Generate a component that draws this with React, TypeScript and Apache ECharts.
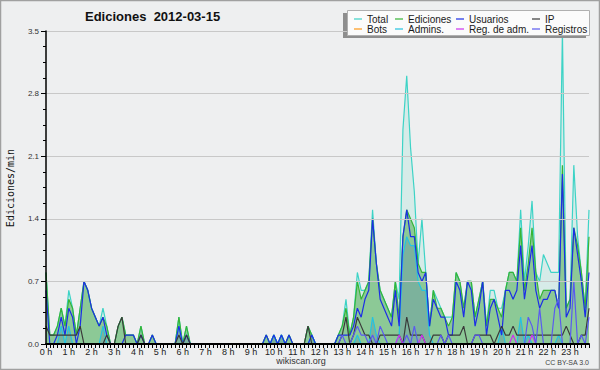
import React, { useEffect, useRef } from "react";
import * as echarts from "echarts";

// Hour tick labels (one every 6 ten-minute slots)
const hourLabels = [
  "0 h", "1 h", "2 h", "3 h", "4 h", "5 h", "6 h", "7 h", "8 h", "9 h", "10 h", "11 h",
  "12 h", "13 h", "14 h", "15 h", "16 h", "17 h", "18 h", "19 h", "20 h", "21 h", "22 h", "23 h",
];
const minuteSteps = ["00", "10", "20", "30", "40", "50"];

// Edits per minute, 10-minute bins (each row = 2 hours)
const total = [
  0.8, 0.1, 0.1, 0.2, 0.4, 0.2, 0.6, 0.4, 0.1, 0.4, 0.7, 0.6,
  0.4, 0.3, 0.2, 0.4, 0.2, 0, 0, 0.2, 0.3, 0.1, 0.1, 0.1,
  0, 0.2, 0, 0, 0.1, 0, 0, 0, 0, 0, 0, 0.3,
  0, 0.2, 0, 0, 0, 0, 0, 0, 0, 0, 0, 0,
  0, 0, 0, 0, 0, 0, 0, 0, 0, 0, 0.1, 0,
  0.1, 0, 0.1, 0, 0.1, 0, 0, 0, 0, 0.2, 0.1, 0,
  0, 0, 0, 0, 0, 0.1, 0.2, 0.5, 0.1, 0.3, 0.8, 0.6,
  0.6, 0.7, 1.5, 0.9, 0.6, 0.5, 0.4, 0.3, 0.7, 0.5, 2.4, 3.0,
  2.2, 1.7, 0.9, 1.4, 0.8, 0.2, 0.6, 0.5, 0.4, 0.3, 0.3, 0.3,
  0.8, 0.7, 0.4, 0.7, 0.7, 0.3, 0.5, 0.7, 0.2, 0.6, 0.6, 0.4,
  0.4, 0.6, 0.8, 0.8, 0.7, 1.5, 0.7, 1.1, 1.6, 0.8, 0.7, 1.0,
  0.9, 0.8, 0.8, 0.8, 3.5, 0.4, 0.5, 2.0, 1.2, 0.8, 0.4, 1.5,
];
const ediciones = [
  0.8, 0.1, 0.1, 0.2, 0.4, 0.2, 0.5, 0.4, 0.1, 0.4, 0.7, 0.6,
  0.4, 0.3, 0.2, 0.3, 0.2, 0, 0, 0.2, 0.3, 0.1, 0.1, 0.1,
  0, 0.2, 0, 0, 0.1, 0, 0, 0, 0, 0, 0, 0.3,
  0, 0.2, 0, 0, 0, 0, 0, 0, 0, 0, 0, 0,
  0, 0, 0, 0, 0, 0, 0, 0, 0, 0, 0.1, 0,
  0.1, 0, 0.1, 0, 0.1, 0, 0, 0, 0, 0.2, 0.1, 0,
  0, 0, 0, 0, 0, 0.1, 0.2, 0.4, 0.1, 0.3, 0.7, 0.5,
  0.6, 0.7, 1.4, 0.9, 0.6, 0.5, 0.4, 0.3, 0.7, 0.3, 1.2, 1.5,
  1.4, 1.3, 0.9, 0.8, 0.8, 0.2, 0.6, 0.4, 0.4, 0.3, 0.2, 0.3,
  0.8, 0.7, 0.4, 0.7, 0.7, 0.3, 0.5, 0.7, 0.2, 0.5, 0.5, 0.4,
  0.3, 0.6, 0.8, 0.8, 0.7, 1.3, 0.6, 0.9, 1.3, 0.8, 0.5, 0.6,
  0.6, 0.6, 0.6, 0.4, 2.0, 0.4, 0.5, 1.3, 1.1, 0.8, 0.4, 1.2,
];
const usuarios = [
  0.6, 0, 0, 0.1, 0.3, 0.1, 0.4, 0.3, 0, 0.2, 0.7, 0.6,
  0.4, 0.3, 0.2, 0.3, 0.1, 0, 0, 0, 0, 0.1, 0.1, 0.1,
  0, 0.1, 0, 0, 0.1, 0, 0, 0, 0, 0, 0, 0.2,
  0, 0.1, 0, 0, 0, 0, 0, 0, 0, 0, 0, 0,
  0, 0, 0, 0, 0, 0, 0, 0, 0, 0, 0.1, 0,
  0.1, 0, 0.1, 0, 0.1, 0, 0, 0, 0, 0, 0.1, 0,
  0, 0, 0, 0, 0, 0.1, 0.1, 0.1, 0.1, 0.2, 0.4, 0.3,
  0.5, 0.6, 1.4, 0.9, 0.5, 0.4, 0.3, 0.2, 0.6, 0.2, 1.2, 1.5,
  1.2, 1.2, 0.8, 0.7, 0.8, 0.2, 0.5, 0.4, 0.3, 0.3, 0.1, 0.1,
  0.7, 0.6, 0.3, 0.7, 0.6, 0.2, 0.4, 0.7, 0.1, 0.4, 0.5, 0.3,
  0.1, 0.6, 0.6, 0.5, 0.6, 1.1, 0.5, 0.8, 1.1, 0.6, 0.4, 0.5,
  0.5, 0.6, 0.6, 0.4, 1.9, 0.3, 0.4, 1.3, 1.0, 0.7, 0.3, 0.8,
];
const ip = [
  0.2, 0.1, 0.1, 0.1, 0.1, 0.1, 0.1, 0.1, 0.1, 0.2, 0, 0,
  0, 0, 0, 0, 0.1, 0, 0, 0.2, 0.3, 0, 0, 0,
  0, 0.1, 0, 0, 0, 0, 0, 0, 0, 0, 0, 0.1,
  0, 0.1, 0, 0, 0, 0, 0, 0, 0, 0, 0, 0,
  0, 0, 0, 0, 0, 0, 0, 0, 0, 0, 0, 0,
  0, 0, 0, 0, 0, 0, 0, 0, 0, 0.2, 0, 0,
  0, 0, 0, 0, 0, 0, 0.1, 0.3, 0, 0.1, 0.3, 0.2,
  0.1, 0.1, 0, 0, 0.1, 0.1, 0.1, 0.1, 0.1, 0.1, 0, 0.3,
  0.1, 0.1, 0.1, 0.1, 0, 0, 0.1, 0.1, 0.1, 0, 0.1, 0.1,
  0.1, 0.1, 0.2, 0, 0, 0.1, 0.1, 0.1, 0.1, 0.1, 0, 0.1,
  0.2, 0.1, 0.1, 0.2, 0.1, 0.1, 0.1, 0.1, 0.1, 0.1, 0.1, 0.1,
  0.1, 0.1, 0.1, 0.1, 0.1, 0.2, 0.1, 0, 0, 0.1, 0.1, 0.4,
];
const bots = [
  0, 0, 0, 0, 0, 0, 0, 0, 0, 0, 0, 0,
  0, 0, 0, 0, 0, 0, 0, 0, 0, 0, 0, 0,
  0, 0, 0, 0, 0, 0, 0, 0, 0, 0, 0, 0,
  0, 0, 0, 0, 0, 0, 0, 0, 0, 0, 0, 0,
  0, 0, 0, 0, 0, 0, 0, 0, 0, 0, 0, 0,
  0, 0, 0, 0, 0, 0, 0, 0, 0, 0, 0, 0,
  0, 0, 0, 0, 0, 0, 0, 0, 0, 0, 0, 0,
  0, 0, 0, 0, 0, 0, 0, 0, 0, 0, 0, 0,
  0, 0, 0, 0, 0, 0, 0, 0, 0, 0, 0, 0,
  0, 0, 0, 0, 0, 0, 0, 0, 0, 0, 0, 0,
  0, 0, 0, 0, 0, 0, 0, 0, 0, 0, 0, 0,
  0, 0, 0, 0, 0, 0, 0, 0, 0, 0, 0, 0,
];
const admins = [
  0, 0, 0, 0, 0.2, 0, 0.2, 0, 0, 0, 0, 0,
  0, 0, 0, 0.2, 0, 0, 0, 0, 0, 0, 0, 0,
  0, 0, 0, 0, 0, 0, 0, 0, 0, 0, 0, 0.2,
  0, 0.1, 0, 0, 0, 0, 0, 0, 0, 0, 0, 0,
  0, 0, 0, 0, 0, 0, 0, 0, 0, 0, 0, 0,
  0.1, 0, 0.1, 0, 0, 0, 0, 0, 0, 0, 0.1, 0,
  0, 0, 0, 0, 0, 0, 0, 0, 0, 0, 0.1, 0,
  0, 0, 0.3, 0.1, 0, 0, 0, 0, 0, 0.1, 1.0, 1.2,
  1.1, 1.1, 0.7, 0.6, 0.6, 0.1, 0, 0, 0, 0, 0, 0,
  0, 0, 0, 0, 0, 0, 0, 0, 0, 0, 0, 0,
  0.2, 0, 0, 0, 0, 0.3, 0, 0.1, 0, 0, 0, 0,
  0, 0, 0, 0.1, 0, 0, 0, 0, 0, 0, 0, 0,
];
const regAdm = [
  0, 0, 0, 0, 0, 0, 0, 0, 0, 0, 0, 0,
  0, 0, 0, 0, 0, 0, 0, 0, 0, 0, 0, 0,
  0, 0, 0, 0, 0, 0, 0, 0, 0, 0, 0, 0,
  0, 0, 0, 0, 0, 0, 0, 0, 0, 0, 0, 0,
  0, 0, 0, 0, 0, 0, 0, 0, 0, 0, 0, 0,
  0, 0, 0, 0, 0, 0, 0, 0, 0, 0, 0, 0,
  0, 0, 0, 0, 0, 0, 0, 0, 0, 0, 0, 0,
  0, 0, 0, 0, 0, 0, 0, 0, 0, 0.1, 0, 0,
  0, 0, 0, 0.1, 0, 0, 0, 0, 0, 0, 0, 0,
  0, 0, 0, 0, 0, 0, 0, 0, 0, 0, 0, 0,
  0, 0, 0, 0.1, 0, 0, 0, 0, 0.1, 0, 0, 0,
  0, 0, 0, 0, 0, 0, 0, 0, 0, 0, 0, 0,
];
const registros = [
  0, 0, 0, 0, 0, 0, 0, 0, 0, 0, 0, 0,
  0, 0, 0, 0, 0, 0, 0, 0, 0, 0, 0, 0,
  0, 0, 0, 0, 0, 0, 0, 0, 0, 0, 0, 0,
  0, 0, 0, 0, 0, 0, 0, 0, 0, 0, 0, 0,
  0, 0, 0, 0, 0, 0, 0, 0, 0, 0, 0, 0,
  0, 0, 0, 0, 0, 0, 0, 0, 0, 0, 0, 0,
  0, 0, 0, 0, 0, 0, 0.1, 0, 0, 0.1, 0.2, 0.1,
  0.1, 0, 0.1, 0, 0.2, 0.1, 0, 0, 0, 0, 0, 0.1,
  0, 0.2, 0, 0, 0, 0, 0, 0, 0.1, 0, 0.1, 0,
  0, 0, 0, 0, 0, 0.1, 0.1, 0, 0, 0, 0, 0,
  0, 0, 0, 0, 0, 0, 0, 0.3, 0.2, 0, 0.4, 0,
  0, 0, 0.4, 0.5, 0, 0, 0, 0.7, 0, 0.1, 0, 0.3,
];

const yTicks = [0, 0.7, 1.4, 2.1, 2.8, 3.5];

const FONT = "Liberation Sans, Arial, sans-serif";

export default function App() {
  const ref = useRef<HTMLDivElement>(null);
  useEffect(() => {
    if (!ref.current) return;
    const chart = echarts.init(ref.current, undefined, { renderer: "svg" });
    const categories: string[] = [];
    hourLabels.forEach((h) => minuteSteps.forEach((m) => categories.push(h + m)));

    const mk = (name: string, data: number[], color: string, area?: string) => ({
      type: "line",
      name,
      data,
      symbol: "none",
      silent: true,
      lineStyle: { width: 1.2, color },
      itemStyle: { color },
      areaStyle: area ? { color: area, opacity: 1 } : undefined,
      emphasis: { disabled: true },
    });

    const legendCommon = {
      orient: "vertical",
      top: 14,
      itemWidth: 8,
      itemHeight: 1.2,
      itemGap: 0,
      icon: "rect",
      selectedMode: false,
      z: 12,
      textStyle: { fontSize: 10, lineHeight: 10, fontFamily: FONT, color: "#1a1a1a", padding: 0 },
      padding: 0,
    };

    chart.setOption({
      animation: false,
      backgroundColor: "#eeeff0",
      title: {
        text: "Ediciones  2012-03-15",
        left: 85,
        top: 10,
        padding: 0,
        textStyle: { fontSize: 13, fontWeight: "bold", fontFamily: FONT, color: "#111" },
      },
      legend: [
        { ...legendCommon, left: 354, data: ["Total", "Bots"] },
        { ...legendCommon, left: 395, data: ["Ediciones", "Admins."] },
        { ...legendCommon, left: 456, data: ["Usuarios", "Reg. de adm."] },
        { ...legendCommon, left: 532, data: ["IP", "Registros"] },
      ],
      grid: { left: 46, right: 11, top: 31, bottom: 26, containLabel: false },
      xAxis: {
        type: "category",
        data: categories,
        boundaryGap: false,
        z: 10,
        axisLine: { show: true, lineStyle: { color: "#000", width: 2 } },
        axisTick: { show: true, interval: 0, length: 4, lineStyle: { color: "#000", width: 1 } },
        axisLabel: {
          interval: 5,
          margin: 3,
          fontSize: 9,
          fontFamily: FONT,
          color: "#222",
          formatter: (_v: string, idx: number) => hourLabels[Math.floor(idx / 6)],
        },
        splitLine: { show: false },
      },
      yAxis: {
        type: "value",
        min: yTicks[0],
        max: yTicks[yTicks.length - 1],
        interval: 0.7,
        z: 10,
        axisLine: { show: true, lineStyle: { color: "#000", width: 1.5 } },
        axisTick: { show: true, length: 5, lineStyle: { color: "#000" } },
        minorTick: { show: true, splitNumber: 4, length: 3, lineStyle: { color: "#000" } },
        axisLabel: {
          margin: 7,
          fontSize: 8,
          fontFamily: FONT,
          color: "#333",
          formatter: (v: number) => v.toFixed(1),
        },
        splitLine: { show: true, lineStyle: { color: "#c8c8c8", width: 1 } },
      },
      series: [
        mk("Total", total, "#3dd3c6", "rgba(80,215,190,0.15)"),
        mk("Ediciones", ediciones, "#36b536", "rgba(50,160,50,0.45)"),
        mk("Admins.", admins, "#25c3e0", "rgba(30,40,200,0.14)"),
        mk("Usuarios", usuarios, "#1c2ee6"),
        mk("IP", ip, "#3a3a3a"),
        mk("Bots", bots, "#ff9a1a"),
        mk("Reg. de adm.", regAdm, "#cc33ee"),
        mk("Registros", registros, "#5a5af0"),
      ],
      graphic: [
        { type: "rect", z: 10, shape: { x: 0.5, y: 0.5, width: 599, height: 369 }, style: { fill: "none", stroke: "#a0a0a0", lineWidth: 1.5 } },
        { type: "rect", z: 10, shape: { x: 343, y: 13, width: 243, height: 25 }, style: { fill: "#8e8e8e" } },
        { type: "rect", z: 11, shape: { x: 347.5, y: 10.5, width: 242, height: 25 }, style: { fill: "#fbfbfb", stroke: "#b0b0b0", lineWidth: 1 } },
        {
          type: "text", z: 12, x: 10, y: 188, rotation: Math.PI / 2,
          style: { text: "Ediciones/min", fontSize: 10, fontFamily: "DejaVu Sans Mono, monospace", fill: "#111", textAlign: "center", textVerticalAlign: "middle" },
        },
        {
          type: "text", z: 12, x: 301, y: 361,
          style: { text: "wikiscan.org", fontSize: 9, fontFamily: FONT, fill: "#333", textAlign: "center", textVerticalAlign: "middle" },
        },
        {
          type: "text", z: 12, x: 589, y: 362,
          style: { text: "CC BY-SA 3.0", fontSize: 7, fontFamily: FONT, fill: "#444", textAlign: "right", textVerticalAlign: "middle" },
        },
      ],
    });
    return () => chart.dispose();
  }, []);
  return (
    <div style={{ position: "fixed", left: 0, top: 0, width: 600, height: 370 }}>
      <div ref={ref} style={{ width: 600, height: 370 }} />
    </div>
  );
}
